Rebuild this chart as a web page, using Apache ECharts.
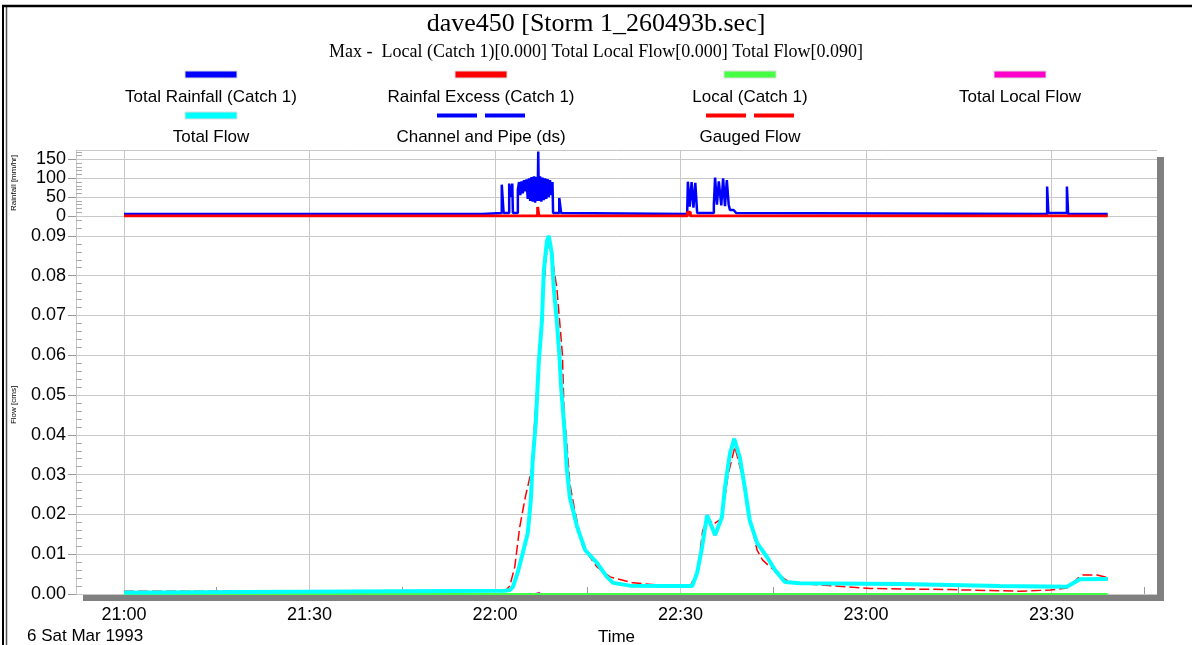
<!DOCTYPE html>
<html>
<head>
<meta charset="UTF-8">
<title>dave450 [Storm 1_260493b.sec]</title>
<style>
  html, body { margin: 0; padding: 0; background: #fff; }
  #chart { width: 1192px; height: 645px; }
</style>
<script src="https://cdn.jsdelivr.net/npm/echarts@6/dist/echarts.min.js"></script>
</head>
<body>
<div id="chart"></div>
<script>
// x values are minutes after 21:00 on 6 Mar 1993

// rainfall panel [mm/hr]
var rainMin = [0, 58, 58, 61.1, 61.1, 61.4, 61.4, 62.3, 62.3, 62.5, 62.6, 62.8, 62.9, 62.9, 63.7, 63.7, 63.9, 64.1, 64.3, 64.5,
  64.7, 64.9, 65.1, 65.3, 65.5, 65.7, 65.9, 66.1, 66.3, 66.5, 66.7, 66.9, 67.0, 67.1, 67.3, 67.5, 67.7, 67.9, 68.1, 68.3,
  68.5, 68.7, 68.9, 69.1, 69.3, 69.4, 70.4, 70.4, 70.7, 70.7, 71.0, 71.0,
  91.1, 91.1, 91.2, 91.5, 91.8, 92.1, 92.4, 92.7, 92.7, 95.4, 95.4, 95.6, 95.9, 96.2, 96.6, 96.9, 97.2, 97.5, 97.8, 98.0,
  98.6, 99.0, 99.0,
  149.3, 149.3, 149.5, 149.5, 152.5, 152.5, 152.7, 152.7, 159.1];
var rainVal = [5, 5, 8, 8, 83, 83, 8, 8, 86, 86, 50, 86, 86, 8, 8, 70, 90, 55, 92, 60,
  95, 65, 97, 45, 100, 40, 103, 38, 105, 35, 104, 40, 171, 40, 105, 38, 102, 42, 100, 45,
  98, 50, 95, 55, 90, 8, 8, 48, 48, 8, 8, 5,
  5, 20, 91, 25, 90, 22, 88, 91, 8, 8, 30, 102, 30, 92, 28, 100, 26, 95, 30, 16,
  16, 8, 5,
  5, 78, 78, 8, 8, 78, 78, 5, 5];
var excessMin = [0, 66.9, 66.9, 67.1, 67.1, 91.1, 91.1, 91.6, 91.6, 159.1];
var excessVal = [0, 0, 24, 24, 0, 0, 10, 10, 0, 0];

// flow panel [cms]
var totalMin = [0, 3.3, 3.5, 61.6, 62.4, 62.9, 63.7, 64.5, 65.3, 65.8, 66.1, 66.6, 67.1, 67.6, 67.9, 68.4, 68.7,
  69.2, 69.5, 70.0, 70.4, 70.7, 71.0, 71.3, 71.6, 72.1, 73.3, 74.6, 76.5, 78.1, 79.1, 81.8, 88.3, 91.9,
  92.7, 93.5, 94.3, 95.6, 96.7, 97.2, 98.0, 98.7, 99.6, 100.4, 101.2, 102.4, 104.0, 105.3, 106.9, 109.3,
  125.5, 141.7, 152.5, 154.6, 159.1];
var totalVal = [0.0004, 0.0004, 0.0008, 0.0008, 0.001, 0.0018, 0.0055, 0.0103, 0.0153, 0.0236, 0.0336, 0.043, 0.0586, 0.0687, 0.0812, 0.0887, 0.0900,
  0.0855, 0.077, 0.0687, 0.0604, 0.052, 0.046, 0.040, 0.0318, 0.0243, 0.0168, 0.011, 0.0078, 0.0043, 0.0028, 0.0021, 0.002, 0.002,
  0.0053, 0.0118, 0.0198, 0.0148, 0.0193, 0.0268, 0.0353, 0.039, 0.0343, 0.0268, 0.0185, 0.0128, 0.0093, 0.006, 0.003, 0.0027,
  0.0025, 0.002, 0.0018, 0.0037, 0.0038];
var gaugedMin = [0, 61.6, 62.4, 63.2, 64.0, 64.9, 66.0, 66.3, 66.8, 67.3, 67.8, 68.3, 68.7, 69.2, 70.0, 70.9, 71.2, 71.5,
  72.1, 72.9, 74.2, 76.5, 78.6, 82.3, 86.7, 91.5, 92.8, 93.6, 94.5, 95.3, 96.7, 97.7, 98.8, 100.1, 100.9, 102.4,
  103.3, 105.6, 107.7, 112.6, 120.7, 133.6, 144.9, 149.8, 152.5, 154.3, 155.1, 157.4, 159.1];
var gaugedVal = [0.0007, 0.0007, 0.002, 0.0068, 0.0168, 0.0243, 0.0318, 0.0404, 0.052, 0.063, 0.075, 0.085, 0.0885, 0.085, 0.077, 0.0604, 0.0444, 0.0404,
  0.0278, 0.021, 0.0118, 0.0068, 0.0043, 0.0028, 0.0022, 0.0017, 0.006, 0.016, 0.019, 0.0175, 0.019, 0.030, 0.037, 0.029, 0.021, 0.011,
  0.0085, 0.0053, 0.0028, 0.0023, 0.0014, 0.0011, 0.0007, 0.0010, 0.0015, 0.004, 0.0048, 0.0048, 0.0041];
var localMin = [0, 159.1];
var localVal = [0, 0];
// total local flow is zero (hidden under the local line) apart from one small blip
var totalLocalMin = [66.5, 66.5, 67.2, 67.2];
var totalLocalVal = [0, 0.0004, 0.0004, 0];

// axis ticks
var rainTicks = { min: 0, max: 175, interval: 50 };
var flowTicks = { min: 0, max: 0.095, interval: 0.01 };
var timeStart = -7.76, timeEnd = 167.07;
var timeMajor = [0, 30, 60, 90, 120, 150];
var timeMinor = [15, 45, 75, 105, 135, 165];
var timeLabels = ['21:00', '21:30', '22:00', '22:30', '23:00', '23:30'];

// legend (4 columns x 2 rows, swatch above text)
var legendNames = ['Total Rainfall (Catch 1)', 'Rainfal Excess (Catch 1)', 'Local (Catch 1)', 'Total Local Flow',
  'Total Flow', 'Channel and Pipe (ds)', 'Gauged Flow'];
var legendColors = ['#0000ff', '#ff0000', '#44ff44', '#ff00cc', '#00ffff', '#0000ff', '#ff0000'];
var legendDashed = [false, false, false, false, false, true, true];

function pairs(mins, vals) {
  return mins.map(function (m, i) { return [m, vals[i]]; });
}

var FONT = 'Liberation Sans';
var gridCol = '#c8c8c8';

var graphics = [];
// outer frame
graphics.push({ type: 'line', shape: { x1: 3, y1: 5, x2: 3, y2: 700 }, style: { stroke: '#000', lineWidth: 2 } });
graphics.push({ type: 'line', shape: { x1: 6.5, y1: 6, x2: 6.5, y2: 700 }, style: { stroke: '#555', lineWidth: 1.5 } });
graphics.push({ type: 'line', shape: { x1: 2, y1: 6, x2: 1250, y2: 6 }, style: { stroke: '#000', lineWidth: 2.5 } });
// plot drop shadow
graphics.push({ type: 'rect', z: -1, shape: { x: 1157, y: 157, width: 7, height: 444 }, style: { fill: '#808080' } });
graphics.push({ type: 'rect', z: -1, shape: { x: 83, y: 595, width: 1081, height: 6 }, style: { fill: '#808080' } });
// legend
var colX = [211, 481, 750, 1020];
for (var i = 0; i < legendNames.length; i++) {
  var cx = colX[i % 4], row = Math.floor(i / 4);
  var sy = row === 0 ? 71 : 112;
  if (legendDashed[i]) {
    graphics.push({ type: 'rect', shape: { x: cx - 44, y: sy + 1.5, width: 40, height: 4 }, style: { fill: legendColors[i] } });
    graphics.push({ type: 'rect', shape: { x: cx + 4, y: sy + 1.5, width: 40, height: 4 }, style: { fill: legendColors[i] } });
  } else {
    graphics.push({ type: 'rect', shape: { x: cx - 26, y: sy, width: 52, height: 7 }, style: { fill: legendColors[i], stroke: '#dddddd', lineWidth: 1 } });
  }
  graphics.push({
    type: 'text', x: cx, y: row === 0 ? 97 : 137,
    style: { text: legendNames[i], fill: '#000', font: '17px "' + FONT + '"', align: 'center', verticalAlign: 'middle', textAlign: 'center', textVerticalAlign: 'middle' }
  });
}
graphics.push({
  type: 'text', x: 27, y: 636,
  style: { text: '6 Sat Mar 1993', fill: '#000', font: '17px "' + FONT + '"', align: 'left', verticalAlign: 'middle', textAlign: 'left', textVerticalAlign: 'middle' }
});

function timeAxis(gridIndex, extra) {
  var ax = {
    type: 'value', gridIndex: gridIndex, min: timeStart, max: timeEnd,
    axisLine: { show: false, onZero: false },
    axisTick: { show: false, customValues: timeMajor },
    axisLabel: { show: false, customValues: timeMajor },
    splitLine: { show: true, lineStyle: { color: gridCol, width: 1 } }
  };
  for (var k in extra) ax[k] = extra[k];
  return ax;
}

function valueAxis(gridIndex, ticks, name, nameGap, fmt) {
  return {
    type: 'value', gridIndex: gridIndex, min: ticks.min, max: ticks.max, interval: ticks.interval,
    name: name, nameLocation: 'middle', nameGap: nameGap, nameRotate: 90,
    nameTextStyle: { fontFamily: FONT, fontSize: 8, color: '#000' },
    axisLine: { show: true, onZero: false, lineStyle: { color: gridCol } },
    axisTick: { show: true, length: 8, lineStyle: { color: '#999' } },
    axisLabel: { fontFamily: FONT, fontSize: 18, color: '#000', margin: 10, showMaxLabel: false, formatter: fmt },
    splitLine: { show: true, lineStyle: { color: gridCol, width: 1 } }
  };
}

// overlapping axis that only carries the small inward ticks
function minorAxis(gridIndex, ticks) {
  return {
    type: 'value', gridIndex: gridIndex, min: ticks.min, max: ticks.max, interval: ticks.interval,
    position: 'left', offset: 0,
    axisLine: { show: false, onZero: false },
    axisTick: { show: false, inside: true },
    minorTick: { show: true, splitNumber: 5, length: 6, lineStyle: { color: '#aaa' } },
    axisLabel: { show: false },
    splitLine: { show: false }
  };
}

var chart = echarts.init(document.getElementById('chart'));
chart.setOption({
  animation: false,
  backgroundColor: '#fff',
  textStyle: { fontFamily: FONT },
  title: {
    text: 'dave450 [Storm 1_260493b.sec]',
    subtext: 'Max -  Local (Catch 1)[0.000] Total Local Flow[0.000] Total Flow[0.090]',
    left: 'center', top: 5, itemGap: 4,
    textStyle: { fontFamily: 'Liberation Serif', fontSize: 26, fontWeight: 'normal', color: '#000', lineHeight: 28 },
    subtextStyle: { fontFamily: 'Liberation Serif', fontSize: 18, color: '#000', lineHeight: 20 }
  },
  graphic: { elements: graphics },
  grid: [
    { left: 76, top: 150, width: 1081, height: 66, outerBoundsMode: 'none' },
    { left: 76, top: 216, width: 1081, height: 378, outerBoundsMode: 'none' }
  ],
  xAxis: [
    timeAxis(0, {}),
    timeAxis(1, {
      name: 'Time', nameLocation: 'middle', nameGap: 33,
      nameTextStyle: { fontFamily: FONT, fontSize: 17, color: '#000' },
      axisLabel: {
        show: true, customValues: timeMajor, fontFamily: FONT, fontSize: 18, color: '#000', margin: 12,
        formatter: function (v) { return timeLabels[timeMajor.indexOf(Math.round(v))] || ''; }
      }
    }),
    timeAxis(1, {
      position: 'bottom',
      splitLine: { show: false },
      axisLabel: { show: false },
      axisTick: { show: true, inside: true, length: 7, customValues: timeMinor, lineStyle: { color: '#999' } }
    })
  ],
  yAxis: [
    valueAxis(0, rainTicks, 'Rainfall [mm/hr]', 58, function (v) { return String(v); }),
    valueAxis(1, flowTicks, 'Flow [cms]', 58, function (v) { return v.toFixed(2); }),
    minorAxis(0, rainTicks),
    minorAxis(1, flowTicks)
  ],
  series: [
    { name: 'Total Rainfall (Catch 1)', type: 'line', xAxisIndex: 0, yAxisIndex: 0, symbol: 'none',
      data: pairs(rainMin, rainVal), lineStyle: { color: '#0000ff', width: 2.5 }, itemStyle: { color: '#0000ff' } },
    { name: 'Rainfal Excess (Catch 1)', type: 'line', xAxisIndex: 0, yAxisIndex: 0, symbol: 'none',
      data: pairs(excessMin, excessVal), lineStyle: { color: '#ff0000', width: 3 }, itemStyle: { color: '#ff0000' } },
    { name: 'Total Local Flow', type: 'line', xAxisIndex: 1, yAxisIndex: 1, symbol: 'none', z: 1,
      data: pairs(totalLocalMin, totalLocalVal), lineStyle: { color: '#ff00cc', width: 1.5 }, itemStyle: { color: '#ff00cc' } },
    { name: 'Local (Catch 1)', type: 'line', xAxisIndex: 1, yAxisIndex: 1, symbol: 'none', z: 3,
      data: pairs(localMin, localVal), lineStyle: { color: '#44ff44', width: 2 }, itemStyle: { color: '#44ff44' } },
    { name: 'Channel and Pipe (ds)', type: 'line', xAxisIndex: 1, yAxisIndex: 1, symbol: 'none', z: 4,
      data: pairs(totalMin, totalVal), lineStyle: { color: '#0000ff', width: 1.5, type: [10, 4] }, itemStyle: { color: '#0000ff' } },
    { name: 'Gauged Flow', type: 'line', xAxisIndex: 1, yAxisIndex: 1, symbol: 'none', z: 5,
      data: pairs(gaugedMin, gaugedVal), lineStyle: { color: '#ff0000', width: 1.5, type: [10, 4] }, itemStyle: { color: '#ff0000' } },
    { name: 'Total Flow', type: 'line', xAxisIndex: 1, yAxisIndex: 1, symbol: 'none', z: 6,
      data: pairs(totalMin, totalVal), lineStyle: { color: '#00ffff', width: 4 }, itemStyle: { color: '#00ffff' } }
  ]
});
</script>
</body>
</html>
